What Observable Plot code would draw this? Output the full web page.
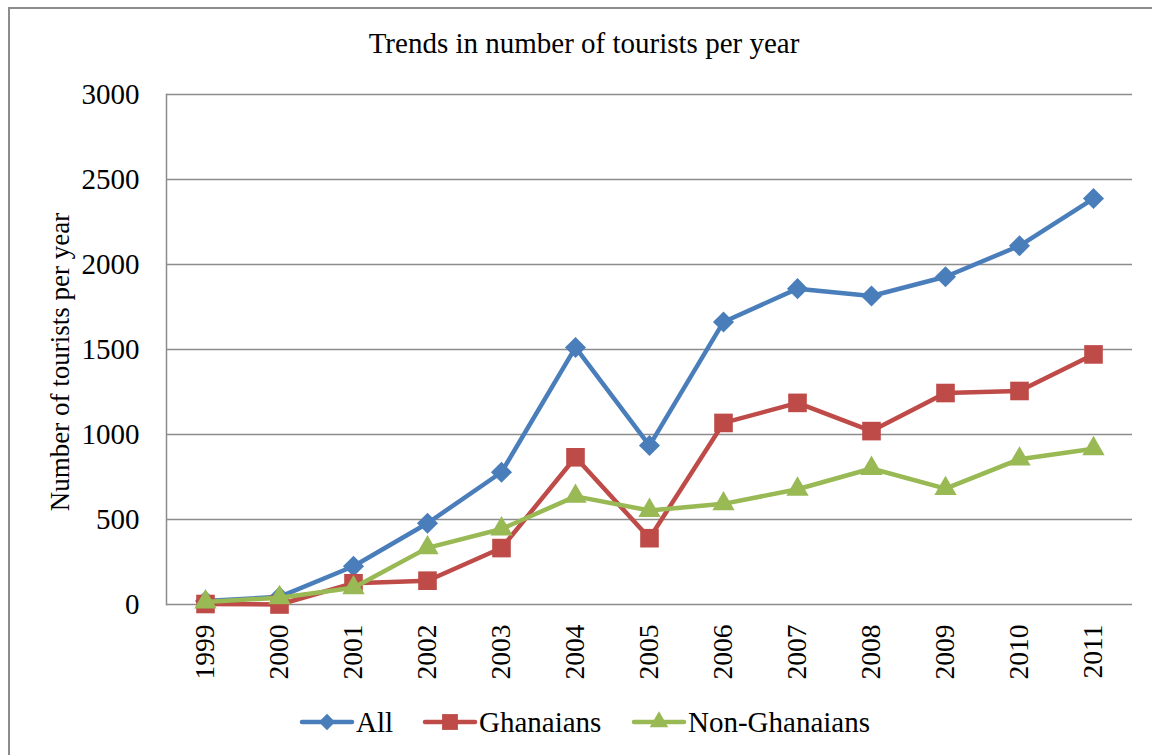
<!DOCTYPE html>
<html>
<head>
<meta charset="utf-8">
<script src="https://cdn.jsdelivr.net/npm/d3@7"></script>
<script src="https://cdn.jsdelivr.net/npm/@observablehq/plot@0.6"></script>
<style>
  html, body { margin: 0; padding: 0; background: #fff; }
  #chart svg { display: block; }
  #chart svg text { font-family: "Liberation Serif", "Times New Roman", serif !important; }
</style>
</head>
<body>
<div id="chart"></div>
<script>
const years = ["1999","2000","2001","2002","2003","2004","2005","2006","2007","2008","2009","2010","2011"];
const allTourists  = [20, 45, 225, 478, 778, 1512, 935, 1662, 1858, 1815, 1928, 2110, 2388];
const ghanaians    = [3, 0, 125, 140, 332, 866, 390, 1068, 1186, 1020, 1244, 1256, 1471];
const nonGhanaians = [15, 40, 98, 333, 444, 636, 553, 592, 678, 800, 682, 855, 916];
const seriesNames  = ["All", "Ghanaians", "Non-Ghanaians"];
const seriesColors = ["#4A7EBB", "#BE4B48", "#98B954"];
const seriesSymbols = ["diamond2", "square", "triangle"];
const seriesR = [9.5, 10.5, 8.3];
const yTicks = [0, 500, 1000, 1500, 2000, 2500, 3000];
const titleText = "Trends in number of tourists per year";
const yLabelText = "Number of tourists per year";

const seriesValues = [allTourists, ghanaians, nonGhanaians];
const data = [];
seriesNames.forEach((s, k) => years.forEach((yr, i) => data.push({series: s, year: yr, value: seriesValues[k][i]})));

const font = "Liberation Serif";
const gridColor = "#8c8c8c";

const seriesMarks = seriesNames.flatMap((s, k) => {
  const d = data.filter(p => p.series === s);
  return [
    Plot.line(d, {x: "year", y: "value", stroke: seriesColors[k], strokeWidth: 4.5, strokeLinejoin: "round"}),
    Plot.dot(d, {x: "year", y: "value", symbol: seriesSymbols[k], r: seriesR[k], fill: seriesColors[k], stroke: "none"})
  ];
});

const svg = Plot.plot({
  width: 1152,
  height: 755,
  marginLeft: 166,
  marginRight: 20,
  marginTop: 94,
  marginBottom: 151,
  style: {fontFamily: font, fontSize: "27px", color: "#000", background: "#fff", overflow: "visible"},
  x: {type: "point", domain: years, padding: 0.5, label: null},
  y: {domain: [0, 3000], label: null},
  marks: [
    Plot.gridY(yTicks, {stroke: gridColor, strokeOpacity: 1, strokeWidth: 1.5}),
    Plot.frame({anchor: "left", stroke: gridColor, strokeWidth: 1.5}),
    Plot.axisY(yTicks, {tickSize: 0, tickPadding: 27, fontSize: 29, tickFormat: d => String(d), fill: "#000"}),
    Plot.axisX({tickSize: 0, tickPadding: 20, tickRotate: -90, fontSize: 27.5, fill: "#000"}),
    ...seriesMarks
  ]
});

const sel = d3.select(svg);
// outer chart border (top and left edges visible)
sel.insert("path", ":first-child")
  .attr("d", "M9,770 L9,8 L1170,8")
  .attr("fill", "none").attr("stroke", "#8c8c8c").attr("stroke-width", 2);

// title
sel.append("text")
  .attr("x", 584).attr("y", 53)
  .attr("text-anchor", "middle")
  .attr("font-size", 29).attr("fill", "#000")
  .text(titleText);

// y label
sel.append("text")
  .attr("transform", "translate(69,362) rotate(-90)")
  .attr("text-anchor", "middle")
  .attr("font-size", 27).attr("fill", "#000")
  .text(yLabelText);

// legend
const legendX = [302, 425, 634];
const legendSymbolFns = [d3.symbolDiamond2, d3.symbolSquare, d3.symbolTriangle];
const legendSizes = [170, 250, 150];
const ly = 722;
seriesNames.forEach((s, k) => {
  const x0 = legendX[k];
  const g = sel.append("g");
  g.append("line").attr("x1", x0).attr("x2", x0 + 50).attr("y1", ly).attr("y2", ly)
    .attr("stroke", seriesColors[k]).attr("stroke-width", 4.5).attr("stroke-linecap", "round");
  g.append("path").attr("transform", `translate(${x0 + 25},${ly})`)
    .attr("d", d3.symbol(legendSymbolFns[k], legendSizes[k])())
    .attr("fill", seriesColors[k]);
  g.append("text").attr("x", x0 + 54).attr("y", 732)
    .attr("text-anchor", "start")
    .attr("font-size", 29).attr("fill", "#000")
    .text(s);
});

document.getElementById("chart").appendChild(svg);
</script>
</body>
</html>
